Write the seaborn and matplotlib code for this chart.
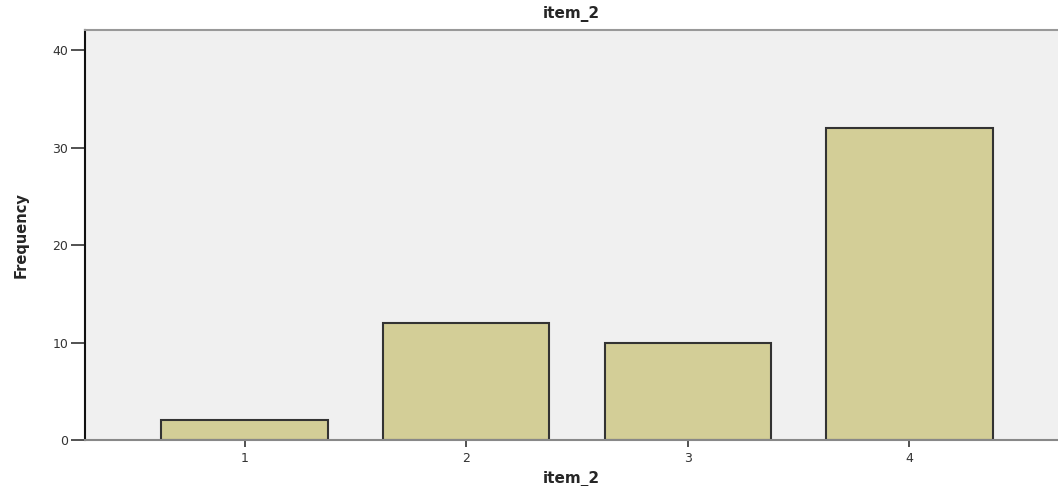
import matplotlib
matplotlib.use("Agg")
import matplotlib.pyplot as plt
import seaborn as sns
import pandas as pd

# Data
categories = ["1", "2", "3", "4"]
frequencies = [2, 12, 10, 32]
y_ticks = [0, 10, 20, 30, 40]

df = pd.DataFrame({"item_2": categories, "Frequency": frequencies})

sns.set_style("white")
plt.rcParams["font.family"] = ["DejaVu Sans"]

fig = plt.figure(figsize=(10.58, 4.86), dpi=100)
ax = fig.add_axes([0.0803, 0.0947, 0.9197, 0.843])
ax.set_facecolor("#f0f0f0")

sns.barplot(
    data=df,
    x="item_2",
    y="Frequency",
    color="#d3ce97",
    saturation=1,
    width=0.75,
    edgecolor="#333333",
    linewidth=1.5,
    ax=ax,
)

ax.set_xlim(-0.72, 3.67)
ax.set_ylim(0, 42.05)
ax.set_yticks(y_ticks)
ax.set_yticklabels([str(t) for t in y_ticks], fontsize=9, color="#333333")
ax.set_xticklabels(categories, fontsize=9, color="#333333")
ax.tick_params(axis="x", bottom=True, length=5, width=1.2, color="#333333", pad=4)
ax.tick_params(axis="y", left=True, length=10, width=1.2, color="#333333", pad=2)

ax.spines["right"].set_visible(False)
ax.spines["left"].set_color("#111111")
ax.spines["left"].set_linewidth(1.5)
ax.spines["top"].set_color("#999999")
ax.spines["top"].set_linewidth(1.5)
ax.spines["bottom"].set_color("#888888")
ax.spines["bottom"].set_linewidth(1.5)

ax.set_title("item_2", fontsize=11, fontweight="bold", pad=9)
ax.set_xlabel("item_2", fontsize=11, fontweight="bold", labelpad=4)
ax.set_ylabel("Frequency", fontsize=10.5, fontweight="bold", labelpad=17)

fig.savefig("out.png", dpi=100)
